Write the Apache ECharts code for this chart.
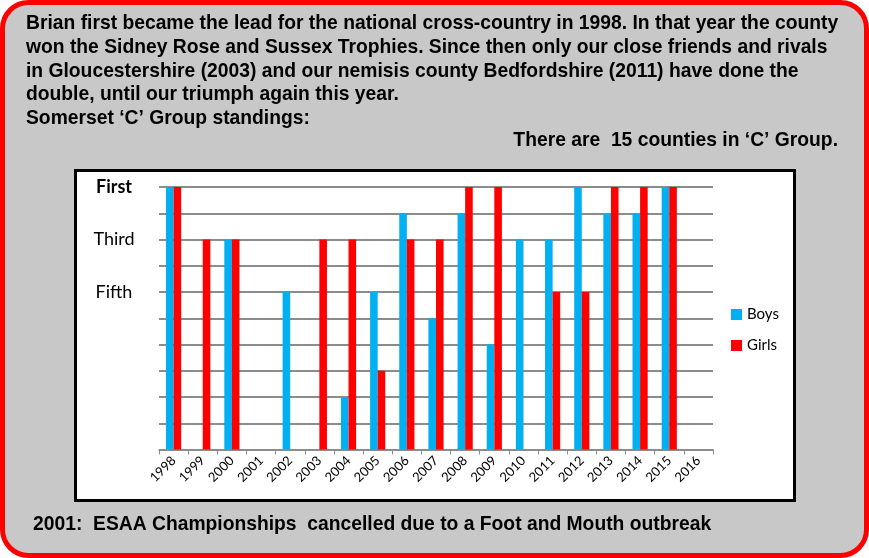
<!DOCTYPE html>
<html>
<head>
<meta charset="utf-8">
<script src="https://cdn.jsdelivr.net/npm/echarts@6/dist/echarts.min.js"></script>
<style>
  html, body { margin: 0; padding: 0; background: #ffffff; }
  #chart { width: 869px; height: 558px; }
</style>
</head>
<body>
<div id="chart"></div>
<script>
// years on the x axis
var years = ["1998", "1999", "2000", "2001", "2002", "2003", "2004", "2005", "2006", "2007",
  "2008", "2009", "2010", "2011", "2012", "2013", "2014", "2015", "2016"];
// standing as 11 - place (10 = First, 8 = Third, 6 = Fifth), null = no entry
var boys = [10, null, 8, null, 6, null, 2, 6, 9, 5, 9, 4, 8, 8, 10, 9, 9, 10, null];
var girls = [10, 8, 8, null, null, 8, 8, 3, 8, 8, 10, 10, null, 6, 6, 10, 10, 10, null];
// y axis tick labels
var placeLabels = { 10: "First", 8: "Third", 6: "Fifth" };

var headerLines = [
  "Brian first became the lead for the national cross-country in 1998. In that year the county",
  "won the Sidney Rose and Sussex Trophies. Since then only our close friends and rivals",
  "in Gloucestershire (2003) and our nemisis county Bedfordshire (2011) have done the",
  "double, until our triumph again this year."
];
var subTitle = "Somerset \u2018C\u2019 Group standings:";
var countNote = "There are  15 counties in \u2018C\u2019 Group.";
var footNote = "2001:  ESAA Championships  cancelled due to a Foot and Mouth outbreak";

var boldFont = "bold 19.3px 'Liberation Sans', Arial, sans-serif";

var graphics = [
  // rounded red frame with grey fill
  {
    type: "rect", z: -10, silent: true,
    shape: { x: 2.5, y: 2.5, width: 864, height: 553, r: 26 },
    style: { fill: "#c8c8c8", stroke: "#ff0000", lineWidth: 5 }
  },
  // white chart box with black border
  {
    type: "rect", z: -9, silent: true,
    shape: { x: 75.5, y: 170.5, width: 719, height: 330 },
    style: { fill: "#ffffff", stroke: "#000000", lineWidth: 3 }
  }
];
headerLines.forEach(function (line, i) {
  graphics.push({
    type: "text", z: 10, silent: true,
    style: { text: line, x: 26, y: 24 + i * 23.7, font: boldFont, fill: "#000", verticalAlign: "middle" }
  });
});
graphics.push({
  type: "text", z: 10, silent: true,
  style: { text: subTitle, x: 26, y: 119, font: boldFont, fill: "#000", verticalAlign: "middle" }
});
graphics.push({
  type: "text", z: 10, silent: true,
  style: { text: countNote, x: 838, y: 141, font: boldFont, fill: "#000", align: "right", verticalAlign: "middle" }
});
graphics.push({
  type: "text", z: 10, silent: true,
  style: { text: footNote, x: 33, y: 525, font: boldFont, fill: "#000", verticalAlign: "middle" }
});

var myChart = echarts.init(document.getElementById("chart"));
var option = {
  animation: false,
  backgroundColor: "transparent",
  graphic: graphics,
  grid: { left: 159, right: 156, top: 187, bottom: 108.5, containLabel: false },
  legend: {
    orient: "vertical",
    left: 726,
    top: 302,
    itemWidth: 11,
    itemHeight: 11,
    itemGap: 16,
    icon: "rect",
    textStyle: { fontFamily: "Lato", fontSize: 15, color: "#000" },
    data: ["Boys", "Girls"]
  },
  xAxis: {
    type: "category",
    data: years,
    axisLine: { lineStyle: { color: "#8c8c8c", width: 1.5 } },
    axisTick: { show: true, length: 5, lineStyle: { color: "#8c8c8c" } },
    axisLabel: { rotate: 45, margin: 9, fontFamily: "Lato", fontSize: 13, color: "#000", interval: 0 }
  },
  yAxis: {
    type: "value",
    min: 0,
    max: 10,
    interval: 1,
    axisLine: { show: false },
    axisTick: { show: false },
    splitLine: { lineStyle: { color: "#8c8c8c", width: 2 } },
    axisLabel: {
      margin: 45,
      align: "center",
      fontFamily: "Lato",
      fontSize: 18,
      color: "#000",
      formatter: function (v) {
        if (v === 10) return "{b|First}";
        return placeLabels[v] || "";
      },
      rich: { b: { fontFamily: "Lato", fontSize: 18, fontWeight: "bold", color: "#000" } }
    }
  },
  series: [
    {
      name: "Boys",
      type: "bar",
      data: boys,
      barGap: "0%",
      barCategoryGap: "48%",
      itemStyle: { color: "#00b0f0" }
    },
    {
      name: "Girls",
      type: "bar",
      data: girls,
      barGap: "0%",
      barCategoryGap: "48%",
      itemStyle: { color: "#ff0000" }
    }
  ]
};
myChart.setOption(option);
</script>
</body>
</html>
